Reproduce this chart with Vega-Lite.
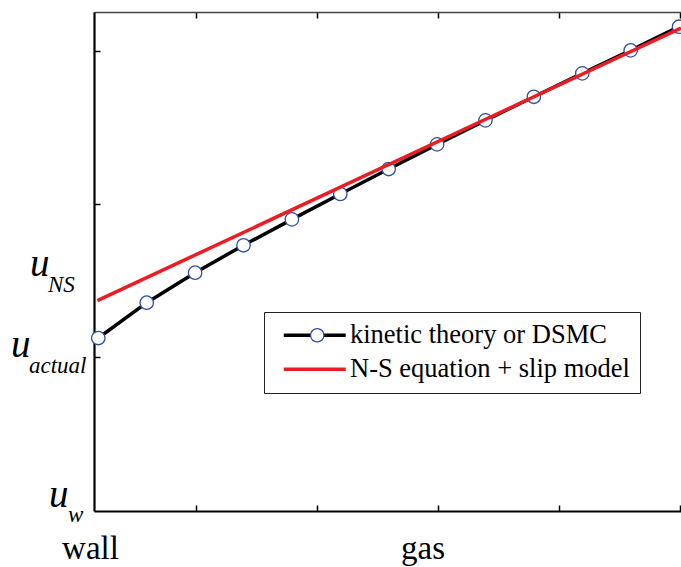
{
  "$schema": "https://vega.github.io/schema/vega-lite/v6.json",
  "width": 587,
  "height": 499,
  "autosize": {"type": "none"},
  "padding": {"left": 94, "top": 12, "right": 0, "bottom": 56},
  "background": "white",
  "config": {"view": {"stroke": null}, "font": "Liberation Serif"},
  "datasets": {
    "kinetic": [
      {"pos": 0, "u": 1.125, "series": "kinetic theory or DSMC", "marker": "m1"},
      {"pos": 1, "u": 1.356, "series": "kinetic theory or DSMC", "marker": "m1"},
      {"pos": 2, "u": 1.552, "series": "kinetic theory or DSMC", "marker": "m1"},
      {"pos": 3, "u": 1.731, "series": "kinetic theory or DSMC", "marker": "m1"},
      {"pos": 4, "u": 1.900, "series": "kinetic theory or DSMC", "marker": "m1"},
      {"pos": 5, "u": 2.066, "series": "kinetic theory or DSMC", "marker": "m1"},
      {"pos": 6, "u": 2.229, "series": "kinetic theory or DSMC", "marker": "m1"},
      {"pos": 7, "u": 2.390, "series": "kinetic theory or DSMC", "marker": "m1"},
      {"pos": 8, "u": 2.547, "series": "kinetic theory or DSMC", "marker": "m1"},
      {"pos": 9, "u": 2.701, "series": "kinetic theory or DSMC", "marker": "m1"},
      {"pos": 10, "u": 2.854, "series": "kinetic theory or DSMC", "marker": "m1"},
      {"pos": 11, "u": 3.004, "series": "kinetic theory or DSMC", "marker": "m1"},
      {"pos": 12, "u": 3.159, "series": "kinetic theory or DSMC", "marker": "m1"}
    ],
    "ns": [
      {"pos": -0.02, "u": 1.369, "series": "N-S equation + slip model", "dot": "d"},
      {"pos": 12.04, "u": 3.150, "series": "N-S equation + slip model", "dot": "d"}
    ],
    "labels": [
      {"name": "w", "u": 0, "sub": "w"},
      {"name": "actual", "u": 1.0, "sub": "actual"},
      {"name": "NS", "u": 1.53, "sub": "NS"}
    ]
  },
  "layer": [
    {
      "data": {"name": "kinetic"},
      "mark": {"type": "line", "strokeWidth": 3.5},
      "encoding": {
        "x": {"field": "pos", "type": "quantitative",
          "scale": {"domain": [-0.089, 12.04], "nice": false, "zero": false},
          "axis": {"orient": "bottom", "values": [-0.089, 2.02, 4.52, 6.7, 7.02, 9.52, 12.02],
            "labelExpr": "datum.value < 0 ? 'wall' : (abs(datum.value - 6.7) < 0.01 ? 'gas' : '')",
            "tickOpacity": {"condition": {"test": "datum.value < 0 || abs(datum.value - 6.7) < 0.01", "value": 0}, "value": 1},
            "labelOffset": {"condition": {"test": "datum.value < 0", "value": -4}, "value": 0},
            "tickSize": -6, "tickColor": "black", "tickWidth": 1.5,
            "domainColor": "black", "domainWidth": 2.2,
            "labelFont": "Liberation Serif", "labelFontSize": 33, "labelColor": "black",
            "labelBaseline": "alphabetic", "labelPadding": 53, "labelOverlap": false,
            "labelBound": false, "labelFlush": false, "title": null, "grid": false}},
        "y": {"field": "u", "type": "quantitative",
          "scale": {"domain": [-0.005, 3.255], "nice": false, "zero": false},
          "axis": {"orient": "left", "values": [1, 2, 3], "labels": false, "tickSize": -6,
            "tickColor": "black", "tickWidth": 1.5, "domainColor": "black", "domainWidth": 2.2,
            "title": null, "grid": false}},
        "stroke": {"field": "series", "type": "nominal",
          "scale": {"domain": ["kinetic theory or DSMC", "N-S equation + slip model"], "range": ["black", "#ed1c24"]},
          "legend": {"orient": "none", "legendX": 170, "legendY": 300, "title": null,
            "symbolType": "M-4,0H4", "symbolSize": 240, "symbolStrokeWidth": 3.5,
            "symbolOffset": 27.5, "labelOffset": 22,
            "labelFont": "Liberation Serif", "labelFontSize": 26.5, "labelColor": "black", "labelLimit": 400,
            "rowPadding": 7, "padding": 10, "strokeColor": "#222", "fillColor": "white", "cornerRadius": 0}}
      }
    },
    {
      "data": {"name": "kinetic"},
      "mark": {"type": "point", "filled": true, "fill": "white", "stroke": "#2f4ea6", "strokeWidth": 1.3, "size": 180, "opacity": 1},
      "encoding": {
        "x": {"field": "pos", "type": "quantitative",
          "scale": {"domain": [-0.089, 12.04], "nice": false, "zero": false},
          "axis": {"orient": "top", "values": [2.02, 4.52, 7.02, 9.52, 12.02], "labels": false, "tickSize": -6,
            "tickColor": "black", "tickWidth": 1.5, "domainColor": "#444", "domainWidth": 1.6,
            "title": null, "grid": false}},
        "y": {"field": "u", "type": "quantitative",
          "scale": {"domain": [-0.005, 3.255], "nice": false, "zero": false}},
        "shape": {"field": "marker", "type": "nominal",
          "scale": {"domain": ["m1"], "range": ["circle"]},
          "legend": {"orient": "none", "legendX": 170, "legendY": 300, "title": null,
            "symbolType": "circle", "symbolSize": 180, "symbolStrokeWidth": 1.3, "symbolOffset": 30,
            "labelFont": "Liberation Serif", "labelFontSize": 26.5, "labelExpr": "' '", "labelLimit": 400,
            "rowPadding": 7, "padding": 10}}
      }
    },
    {
      "data": {"name": "ns"},
      "mark": {"type": "line", "strokeWidth": 3.5},
      "encoding": {
        "x": {"field": "pos", "type": "quantitative",
          "scale": {"domain": [-0.089, 12.04], "nice": false, "zero": false}, "axis": null},
        "y": {"field": "u", "type": "quantitative",
          "scale": {"domain": [-0.005, 3.255], "nice": false, "zero": false}},
        "stroke": {"field": "series", "type": "nominal",
          "scale": {"domain": ["kinetic theory or DSMC", "N-S equation + slip model"], "range": ["black", "#ed1c24"]}}
      }
    },
    {
      "data": {"name": "ns"},
      "transform": [{"filter": "datum.dot == 'none'"}],
      "mark": {"type": "point", "filled": true, "color": "#d0101a", "opacity": 1},
      "encoding": {
        "x": {"field": "pos", "type": "quantitative",
          "scale": {"domain": [-0.089, 12.04], "nice": false, "zero": false}, "axis": null},
        "y": {"field": "u", "type": "quantitative",
          "scale": {"domain": [-0.005, 3.255], "nice": false, "zero": false}},
        "size": {"field": "dot", "type": "ordinal",
          "scale": {"domain": ["d"], "range": [26]},
          "legend": {"orient": "none", "legendX": 170, "legendY": 335, "title": null,
            "symbolType": "circle", "symbolOffset": 35, "symbolOpacity": 1,
            "labelFont": "Liberation Serif", "labelFontSize": 26.5, "labelExpr": "' '", "labelLimit": 400,
            "rowPadding": 7, "padding": 10}}
      }
    },
    {
      "data": {"name": "labels"},
      "transform": [{"filter": "datum.name == 'w'"}],
      "mark": {"type": "text", "text": "u", "font": "Liberation Serif", "fontStyle": "italic", "fontSize": 39, "align": "left", "baseline": "alphabetic", "dx": -45, "dy": -3, "color": "black"},
      "encoding": {
        "x": {"datum": -0.089, "type": "quantitative", "axis": null},
        "y": {"field": "u", "type": "quantitative"}
      }
    },
    {
      "data": {"name": "labels"},
      "transform": [{"filter": "datum.name == 'w'"}],
      "mark": {"type": "text", "font": "Liberation Serif", "fontStyle": "italic", "fontSize": 23, "align": "left", "baseline": "alphabetic", "dx": -26, "dy": 11.5, "color": "black"},
      "encoding": {
        "x": {"datum": -0.089, "type": "quantitative", "axis": null},
        "y": {"field": "u", "type": "quantitative"},
        "text": {"field": "sub"}
      }
    },
    {
      "data": {"name": "labels"},
      "transform": [{"filter": "datum.name == 'actual'"}],
      "mark": {"type": "text", "text": "u", "font": "Liberation Serif", "fontStyle": "italic", "fontSize": 39, "align": "left", "baseline": "alphabetic", "dx": -83, "dy": 0, "color": "black"},
      "encoding": {
        "x": {"datum": -0.089, "type": "quantitative", "axis": null},
        "y": {"field": "u", "type": "quantitative"}
      }
    },
    {
      "data": {"name": "labels"},
      "transform": [{"filter": "datum.name == 'actual'"}],
      "mark": {"type": "text", "font": "Liberation Serif", "fontStyle": "italic", "fontSize": 23, "align": "left", "baseline": "alphabetic", "dx": -65, "dy": 16, "color": "black"},
      "encoding": {
        "x": {"datum": -0.089, "type": "quantitative", "axis": null},
        "y": {"field": "u", "type": "quantitative"},
        "text": {"field": "sub"}
      }
    },
    {
      "data": {"name": "labels"},
      "transform": [{"filter": "datum.name == 'NS'"}],
      "mark": {"type": "text", "text": "u", "font": "Liberation Serif", "fontStyle": "italic", "fontSize": 39, "align": "left", "baseline": "alphabetic", "dx": -64, "dy": 0, "color": "black"},
      "encoding": {
        "x": {"datum": -0.089, "type": "quantitative", "axis": null},
        "y": {"field": "u", "type": "quantitative"}
      }
    },
    {
      "data": {"name": "labels"},
      "transform": [{"filter": "datum.name == 'NS'"}],
      "mark": {"type": "text", "font": "Liberation Serif", "fontStyle": "italic", "fontSize": 23, "align": "left", "baseline": "alphabetic", "dx": -46, "dy": 16, "color": "black"},
      "encoding": {
        "x": {"datum": -0.089, "type": "quantitative", "axis": null},
        "y": {"field": "u", "type": "quantitative"},
        "text": {"field": "sub"}
      }
    }
  ],
  "resolve": {"axis": {"x": "independent"}}
}
